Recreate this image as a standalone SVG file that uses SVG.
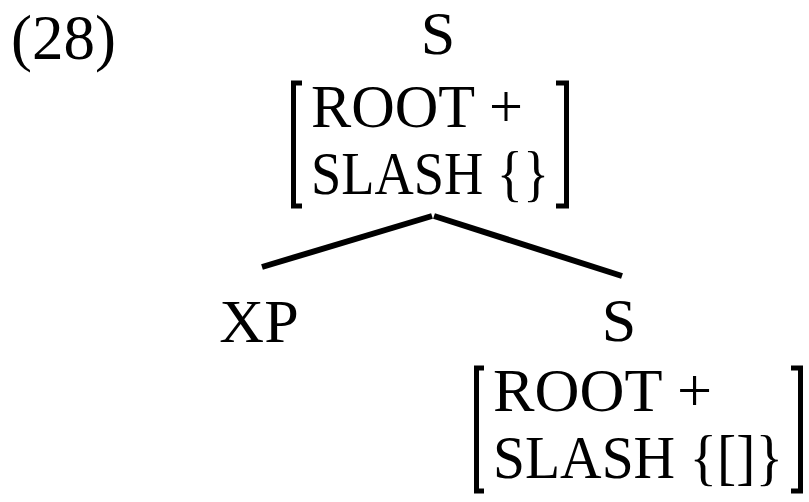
<svg xmlns="http://www.w3.org/2000/svg" width="809" height="502" viewBox="0 0 809 502">
  <style>
    text { font-family: "Liberation Serif", "Times New Roman", serif; fill: #000; }
    .cat { font-size: 62px; }
    .num { font-size: 63px; }
    .feat { font-size: 61px; }
    .brk { fill: none; stroke: #000; stroke-width: 5; stroke-linecap: butt; }
    .edge { stroke: #000; stroke-width: 6; stroke-linecap: butt; }
  </style>
  <rect width="809" height="502" fill="#fff"/>

  <text id="label" class="num" x="11" y="59">(28)</text>

  <g id="root">
    <text class="cat" x="438" y="54" text-anchor="middle">S</text>
    <path class="brk" d="M302,83 H293.5 V206 H302"/>
    <path class="brk" d="M556,83 H566.5 V206 H556"/>
    <text class="feat" x="311" y="127" textLength="212" lengthAdjust="spacingAndGlyphs">ROOT +</text>
    <text class="feat" x="311" y="194" textLength="238" lengthAdjust="spacingAndGlyphs">SLASH {}</text>
  </g>

  <g id="edges">
    <line class="edge" x1="262" y1="267" x2="432" y2="216"/>
    <line class="edge" x1="434" y1="216" x2="622" y2="276"/>
  </g>

  <g id="xp">
    <text class="cat" x="259" y="342" text-anchor="middle">XP</text>
  </g>

  <g id="s-daughter">
    <text class="cat" x="619" y="341" text-anchor="middle">S</text>
    <path class="brk" d="M484,368 H476.5 V491 H484"/>
    <path class="brk" d="M791,368 H800.5 V491 H791"/>
    <text class="feat" x="493" y="411" textLength="219" lengthAdjust="spacingAndGlyphs">ROOT +</text>
    <text class="feat" x="493" y="478" textLength="290" lengthAdjust="spacingAndGlyphs">SLASH {[]}</text>
  </g>
</svg>
